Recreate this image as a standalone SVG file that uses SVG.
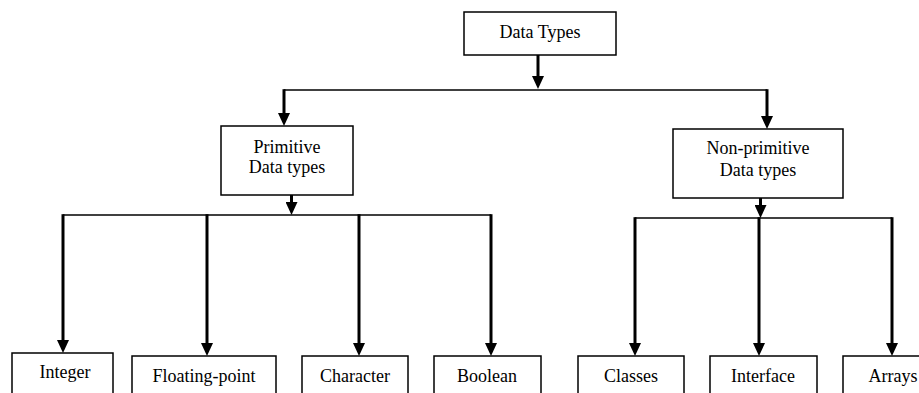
<svg xmlns="http://www.w3.org/2000/svg" width="919" height="393" viewBox="0 0 919 393">
  <style>
    .box rect { fill: #ffffff; stroke: #000000; stroke-width: 1.5; }
    .box text { font-family: "Liberation Serif", Tinos, "Times New Roman", Times, "Nimbus Roman", "DejaVu Serif", serif; font-size: 18px; fill: #000000; text-anchor: middle; }
    .bus { stroke: #000000; stroke-width: 1.6; fill: none; }
    .drop { stroke: #000000; stroke-width: 3; fill: none; marker-end: url(#head); }
  </style>
  <defs>
    <marker id="head" viewBox="0 0 13 12" refX="0" refY="6" markerWidth="13" markerHeight="12" markerUnits="userSpaceOnUse" orient="auto">
      <path d="M0,0 L13,6 L0,12 Z" fill="#000000"/>
    </marker>
  </defs>
  <rect width="919" height="393" fill="#ffffff"/>

  <!-- connectors -->
  <g id="connectors">
    <!-- root to first level -->
    <line class="drop" x1="538" y1="55" x2="538" y2="76"/>
    <line class="bus" x1="284" y1="90" x2="767" y2="90"/>
    <line class="drop" x1="284" y1="89.2" x2="284" y2="113"/>
    <line class="drop" x1="767" y1="89.2" x2="767" y2="116"/>
    <!-- primitive branch -->
    <line class="drop" x1="291.5" y1="195" x2="291.5" y2="202"/>
    <line class="bus" x1="63" y1="215" x2="491" y2="215"/>
    <line class="drop" x1="63" y1="214.2" x2="63" y2="340"/>
    <line class="drop" x1="207" y1="214.2" x2="207" y2="343"/>
    <line class="drop" x1="359" y1="214.2" x2="359" y2="343"/>
    <line class="drop" x1="491" y1="214.2" x2="491" y2="343"/>
    <!-- non-primitive branch -->
    <line class="drop" x1="760.5" y1="198" x2="760.5" y2="205"/>
    <line class="bus" x1="635" y1="218" x2="892" y2="218"/>
    <line class="drop" x1="635" y1="217.2" x2="635" y2="343"/>
    <line class="drop" x1="759" y1="217.2" x2="759" y2="343"/>
    <line class="drop" x1="892" y1="217.2" x2="892" y2="343"/>
  </g>

  <!-- nodes -->
  <g id="data-types" class="box">
    <rect x="464" y="12" width="152" height="43"/>
    <text x="540" y="38">Data Types</text>
  </g>
  <g id="primitive" class="box">
    <rect x="221" y="126" width="132" height="69"/>
    <text x="287" y="153">Primitive</text>
    <text x="287" y="173">Data types</text>
  </g>
  <g id="non-primitive" class="box">
    <rect x="673" y="129" width="170" height="69"/>
    <text x="758" y="154">Non-primitive</text>
    <text x="758" y="176">Data types</text>
  </g>
  <g id="integer" class="box">
    <rect x="12" y="353" width="101" height="50"/>
    <text x="65" y="378">Integer</text>
  </g>
  <g id="floating-point" class="box">
    <rect x="132" y="356" width="144" height="50"/>
    <text x="204" y="382">Floating-point</text>
  </g>
  <g id="character" class="box">
    <rect x="302" y="356" width="106" height="50"/>
    <text x="355" y="382">Character</text>
  </g>
  <g id="boolean" class="box">
    <rect x="434" y="356" width="107" height="50"/>
    <text x="487" y="382">Boolean</text>
  </g>
  <g id="classes" class="box">
    <rect x="578" y="356" width="106" height="50"/>
    <text x="631" y="382">Classes</text>
  </g>
  <g id="interface" class="box">
    <rect x="710" y="356" width="107" height="50"/>
    <text x="763" y="382">Interface</text>
  </g>
  <g id="arrays" class="box">
    <rect x="843" y="356" width="100" height="50"/>
    <text x="893" y="382">Arrays</text>
  </g>
</svg>
